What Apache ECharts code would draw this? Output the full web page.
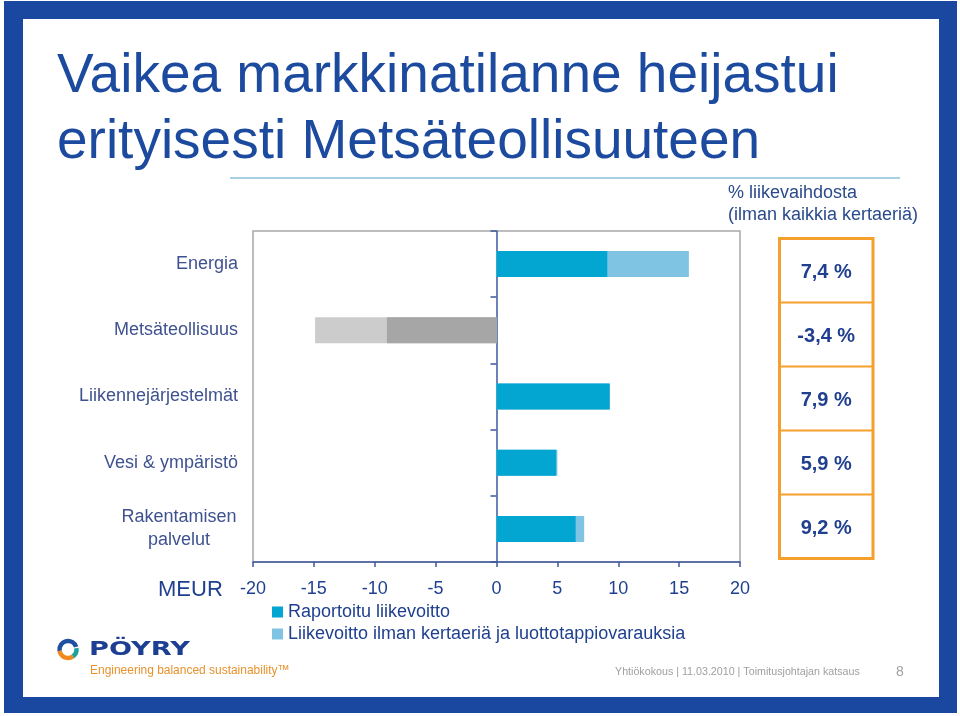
<!DOCTYPE html>
<html>
<head>
<meta charset="utf-8">
<script src="https://cdn.jsdelivr.net/npm/echarts@6/dist/echarts.min.js"></script>
<style>html,body{margin:0;padding:0;background:#fff}#c{width:960px;height:716px}</style>
</head>
<body>
<div id="c"></div>
<script>
// ---- data ----
var categories = ['Energia', 'Metsäteollisuus', 'Liikennejärjestelmät', 'Vesi & ympäristö', 'Rakentamisen\npalvelut'];
var reported = [9.1, -9.0, 9.3, 4.9, 6.5];
var adjusted = [15.8, -14.9, 9.3, 5.0, 7.2];
var marginLabels = ['7,4 %', '-3,4 %', '7,9 %', '5,9 %', '9,2 %'];
var seriesNames = ['Raportoitu liikevoitto', 'Liikevoitto ilman kertaeriä ja luottotappiovarauksia'];
var titleLines = ['Vaikea markkinatilanne heijastui', 'erityisesti Metsäteollisuuteen'];
var marginHeader = ['% liikevaihdosta', '(ilman kaikkia kertaeriä)'];
var unitLabel = 'MEUR';
var footerText = 'Yhtiökokous | 11.03.2010 | Toimitusjohtajan katsaus';
var pageNo = '8';

// ---- styles ----
var FONT = 'Liberation Sans, Arial, sans-serif';
var BLUE = '#1c4a9e';
var TEXTBLUE = '#2a4a8c';
var DARK = '#03a5d1', LIGHT = '#80c4e3', DARKGRAY = '#a6a6a6', LIGHTGRAY = '#cccccc';
var ORANGE = '#f5a02c';

var chart = echarts.init(document.getElementById('c'), null, {renderer: 'canvas'});

var graphics = [];
// slide border
graphics.push({type: 'rect', z: -10, shape: {x: 4, y: 1, width: 953, height: 18}, style: {fill: '#1a47a0'}});
graphics.push({type: 'rect', z: -10, shape: {x: 4, y: 697, width: 953, height: 16}, style: {fill: '#1a47a0'}});
graphics.push({type: 'rect', z: -10, shape: {x: 4, y: 1, width: 19, height: 712}, style: {fill: '#1a47a0'}});
graphics.push({type: 'rect', z: -10, shape: {x: 939, y: 1, width: 18, height: 712}, style: {fill: '#1a47a0'}});
// title
titleLines.forEach(function (t, i) {
  graphics.push({type: 'text', x: 57, y: 77 + i * 66, style: {text: t, font: '55px ' + FONT, fill: BLUE, verticalAlign: 'middle'}});
});
// separator line
graphics.push({type: 'line', shape: {x1: 230, y1: 178, x2: 900, y2: 178}, style: {stroke: '#a9d1e6', lineWidth: 2}});
// margin header
marginHeader.forEach(function (t, i) {
  graphics.push({type: 'text', x: 728, y: 193 + i * 22, style: {text: t, font: '18px ' + FONT, fill: TEXTBLUE, verticalAlign: 'middle'}});
});
// margin box
var boxTop = 238.5, boxBottom = 558.5, boxLeft = 779.5, boxRight = 873;
var rowH = (boxBottom - boxTop) / marginLabels.length;
graphics.push({type: 'rect', shape: {x: boxLeft, y: boxTop, width: boxRight - boxLeft, height: boxBottom - boxTop}, style: {fill: 'none', stroke: ORANGE, lineWidth: 3}});
marginLabels.forEach(function (t, i) {
  if (i > 0) {
    graphics.push({type: 'line', shape: {x1: boxLeft, y1: boxTop + i * rowH, x2: boxRight, y2: boxTop + i * rowH}, style: {stroke: ORANGE, lineWidth: 2}});
  }
  graphics.push({type: 'text', x: (boxLeft + boxRight) / 2, y: boxTop + (i + 0.5) * rowH + 2, style: {text: t, font: 'bold 20px ' + FONT, fill: '#1f3f8f', align: 'center', verticalAlign: 'middle'}});
});
// unit label
graphics.push({type: 'text', x: 158, y: 590, style: {text: unitLabel, font: '22px ' + FONT, fill: '#1f3f8f', verticalAlign: 'middle'}});
// logo
graphics.push({type: 'arc', shape: {cx: 68, cy: 649.5, r: 8.5, startAngle: Math.PI * 0.95, endAngle: Math.PI * 1.9}, style: {stroke: '#1e4fa0', lineWidth: 4.5, fill: 'none'}});
graphics.push({type: 'arc', shape: {cx: 68, cy: 649.5, r: 8.5, startAngle: Math.PI * 0.3, endAngle: Math.PI * 0.95}, style: {stroke: '#f08a1e', lineWidth: 4.5, fill: 'none'}});
graphics.push({type: 'arc', shape: {cx: 68, cy: 649.5, r: 8.5, startAngle: Math.PI * 1.95, endAngle: Math.PI * 2.3}, style: {stroke: '#1aa39a', lineWidth: 4.5, fill: 'none'}});
graphics.push({type: 'text', x: 89, y: 650, scaleX: 1.36, originX: 0, originY: 0, style: {text: 'PÖYRY', font: 'bold 20px DejaVu Sans, sans-serif', fill: '#1c3f94', verticalAlign: 'middle'}});
graphics.push({type: 'text', x: 90, y: 670, scaleX: 0.92, originX: 0, originY: 0, style: {text: 'Engineering balanced sustainability™', font: '13px ' + FONT, fill: '#e8922c', verticalAlign: 'middle'}});
// footer
graphics.push({type: 'text', x: 615, y: 672, style: {text: footerText, font: '10.7px ' + FONT, fill: '#a0a0a0', verticalAlign: 'middle'}});
graphics.push({type: 'text', x: 896, y: 672, style: {text: pageNo, font: '14px ' + FONT, fill: '#a0a0a0', verticalAlign: 'middle'}});

function colored(values, pos, neg) {
  return values.map(function (v) {
    return {value: v, itemStyle: {color: v < 0 ? neg : pos}};
  });
}

var option = {
  animation: false,
  backgroundColor: '#ffffff',
  textStyle: {fontFamily: FONT},
  graphic: graphics,
  grid: {left: 253, right: 220, top: 231, bottom: 154, show: true, borderColor: '#a8a8a8', borderWidth: 1.5, backgroundColor: 'transparent'},
  legend: {
    orient: 'vertical', left: 267, top: 598, itemWidth: 11, itemHeight: 11, itemGap: 4,
    icon: 'rect', data: seriesNames,
    textStyle: {fontSize: 18, color: '#1f3f8f', fontFamily: FONT}
  },
  xAxis: {
    type: 'value', min: -20, max: 20, interval: 5,
    axisLine: {show: true, onZero: false, lineStyle: {color: '#3d5aa0', width: 1.5}},
    axisTick: {show: true, length: 5, lineStyle: {color: '#3d5aa0', width: 1.5}},
    splitLine: {show: false},
    axisLabel: {fontSize: 18, color: '#1f3f8f', margin: 18}
  },
  yAxis: [
    {
      type: 'category', data: categories, inverse: true,
      axisLine: {show: true, onZero: true, lineStyle: {color: '#3d5aa0', width: 1.5}},
      axisTick: {show: true, length: 6, lineStyle: {color: '#3d5aa0', width: 1.5}},
      axisLabel: {show: false}, splitLine: {show: false}
    },
    {
      type: 'category', data: categories, inverse: true, position: 'left',
      axisLine: {show: false}, axisTick: {show: false}, splitLine: {show: false},
      axisLabel: {
        margin: 15, fontSize: 18, color: '#3f5290', lineHeight: 23,
        formatter: function (v) {
          if (v.indexOf('\n') >= 0) {
            return v.split('\n').map(function (l) { return '{c|' + l + '}'; }).join('\n');
          }
          return v;
        },
        rich: {c: {width: 118, align: 'center', fontSize: 18, color: '#3f5290', lineHeight: 23, fontFamily: FONT}}
      }
    }
  ],
  series: [
    {name: seriesNames[1], type: 'bar', yAxisIndex: 0, barWidth: 26, barGap: '-100%', itemStyle: {color: LIGHT}, data: colored(adjusted, LIGHT, LIGHTGRAY)},
    {name: seriesNames[0], type: 'bar', yAxisIndex: 0, barWidth: 26, barGap: '-100%', itemStyle: {color: DARK}, data: colored(reported, DARK, DARKGRAY)}
  ]
};
chart.setOption(option);
</script>
</body>
</html>
